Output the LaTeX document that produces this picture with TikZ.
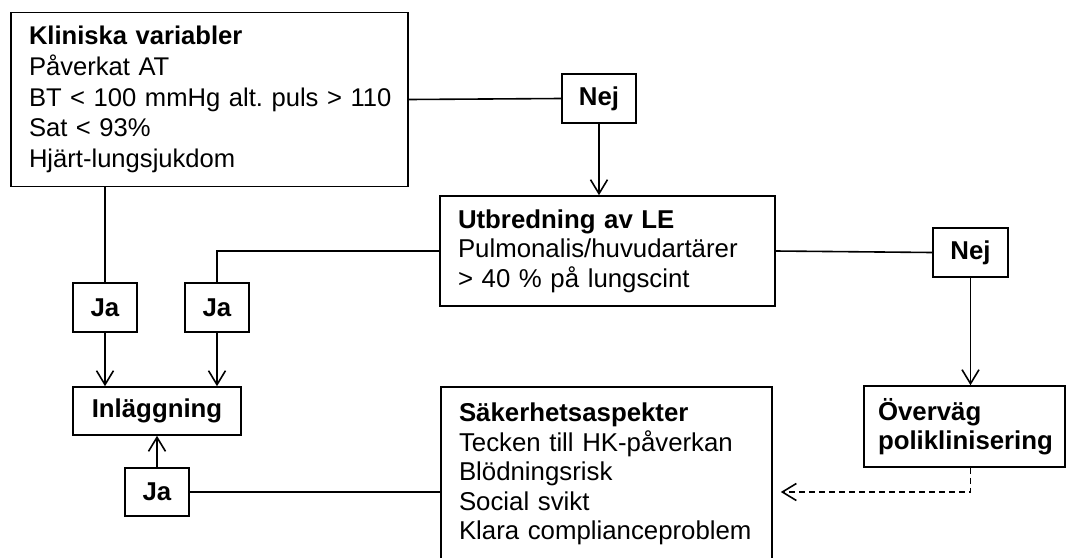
\documentclass[tikz,border=0pt]{standalone}
\usepackage{fontspec}
\setmainfont{Liberation Sans}
\usetikzlibrary{arrows.meta}
\frenchspacing
\begin{document}
\begin{tikzpicture}[x=1pt,y=-1pt,
  line width=1.6pt,
  box/.style={draw, rectangle, line width=1.6pt, inner ysep=0pt},
  txtbox/.style={box, align=left, font=\fontsize{25.8}{29.5}\selectfont},
  lab/.style={box, inner xsep=0pt, align=center, font=\fontsize{25.8}{29.5}\selectfont\bfseries, minimum height=49pt},
  conn/.style={line width=1.6pt},
  arr/.style={conn, -{Straight Barb[length=14pt,width=17pt,line width=1.6pt]}},
  dashline/.style={conn, dash pattern=on 6pt off 4pt}
]
\useasboundingbox (0,0) rectangle (1067,557);
\clip (0,0) rectangle (1067,557);

\node[txtbox, inner xsep=18pt, text width=361pt, minimum height=174pt, font=\fontsize{25.6}{30.8}\selectfont] (kv) at (209.5,99.5)
  {\textbf{Kliniska variabler}\\Påverkat AT\\\mbox{BT < 100 mmHg alt. puls > 110}\\Sat < 93\%\\Hjärt-lungsjukdom};
\node[lab, minimum width=74pt] (nej1) at (599,98.5) {Nej};
\node[txtbox, inner xsep=18pt, text width=299pt, minimum height=110pt] (ut) at (607.5,251)
  {\textbf{Utbredning av LE}\\\mbox{Pulmonalis/huvudartärer}\\\mbox{> 40 \% på lungscint}};
\node[lab, minimum width=75pt] (nej2) at (970.5,252.5) {Nej};
\node[lab, minimum width=64pt] (ja1) at (105,307.5) {Ja};
\node[lab, minimum width=64pt] (ja2) at (217,307.5) {Ja};
\node[lab, minimum width=168pt, minimum height=48pt] (inl) at (157,411) {Inläggning};
\node[lab, minimum width=64pt, minimum height=48pt] (ja3) at (157,492) {Ja};
\node[txtbox, inner xsep=18pt, text width=295pt, minimum height=174pt] (sak) at (606.5,474)
  {\textbf{Säkerhetsaspekter}\\\mbox{Tecken till HK-påverkan}\\Blödningsrisk\\Social svikt\\\mbox{Klara complianceproblem}};
\node[txtbox, inner xsep=14pt, text width=173pt, minimum height=81pt, font=\fontsize{25.8}{29.5}\selectfont\bfseries] (ov) at (964.5,426.5)
  {Överväg\\\mbox{poliklinisering}};

\draw[conn] (kv.east) -- (nej1.west);
\draw[arr] (nej1.south) -- (nej1.south |- ut.north);
\draw[conn] (ja1.north |- kv.south) -- (ja1.north);
\draw[conn] (ut.west) -| (ja2.north);
\draw[arr] (ja1.south) -- (ja1.south |- inl.north);
\draw[arr] (ja2.south) -- (ja2.south |- inl.north);
\draw[arr] (ja3.north) -- (ja3.north |- inl.south);
\draw[conn] (ja3.east) -- (ja3.east -| sak.west);
\draw[conn] (ut.east) -- (nej2.west);
\draw[arr] (nej2.south) -- (nej2.south |- ov.north);
\coordinate (dend) at ([xshift=8pt]sak.east |- ja3.east);
\draw[dashline, -{Straight Barb[length=14pt,width=17pt,line width=1.6pt]}] (nej2.south |- ov.south) |- (dend);
\end{tikzpicture}
\end{document}
